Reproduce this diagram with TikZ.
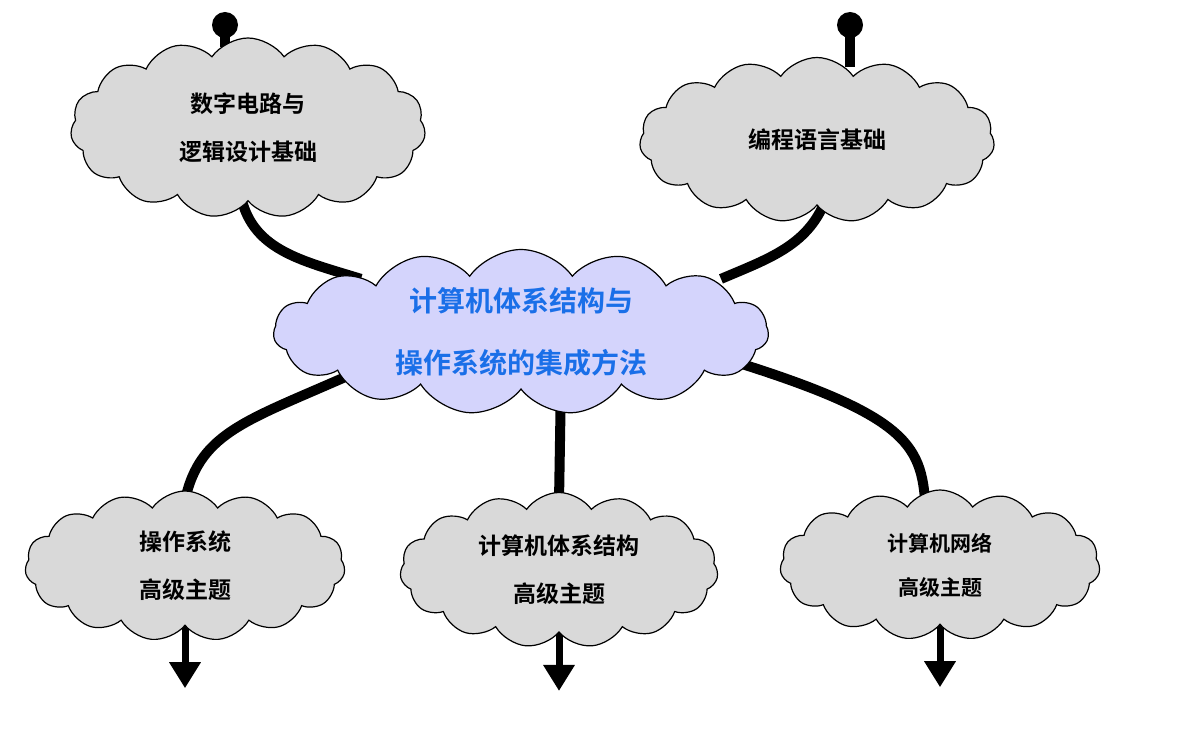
\documentclass[tikz,border=0pt]{standalone}
\usepackage{fontspec}
\newfontfamily\cjk{Noto Sans CJK SC}[BoldFont=* Bold]
\usetikzlibrary{shapes.symbols,arrows.meta,backgrounds}
\tikzset{
 cl/.style={cloud,cloud puffs=15,cloud puff arc=110,cloud ignores aspect,draw,line width=1.2pt,fill=gray!30,align=center,font=\cjk\bfseries\fontsize{23}{48}\selectfont,inner sep=0pt},
 conn/.style={line width=10pt,black},
 arr/.style={line width=7pt,-{Triangle[width=30pt,length=26pt]}},
}
\begin{document}
\begin{tikzpicture}[x=1pt,y=-1pt]
\useasboundingbox (0,0) rectangle (1181,730);
\node[cl,minimum width=355,minimum height=180] (tl) at (248,128) {数字电路与\\逻辑设计基础};
\node[cl,minimum width=355,minimum height=165] (tr) at (817,140) {编程语言基础};
\node[cl,minimum width=495,minimum height=165,fill={rgb,255:red,212;green,212;blue,252},text={rgb,255:red,26;green,111;blue,232},font=\cjk\bfseries\fontsize{28}{62}\selectfont] (c) at (521,332) {计算机体系结构与\\操作系统的集成方法};
\node[cl,minimum width=320,minimum height=150] (bl) at (185,566) {操作系统\\高级主题};
\node[cl,minimum width=318,minimum height=155] (bm) at (559,570) {计算机体系结构\\高级主题};
\node[cl,minimum width=320,minimum height=150,font=\cjk\bfseries\fontsize{21}{44}\selectfont] (br) at (940,565) {计算机网络\\高级主题};
\coordinate (d1) at (225,25);
\coordinate (d2) at (850,25);
\begin{scope}[on background layer]
\fill (d1) circle (13);
\fill (d2) circle (13);
\draw[conn] (d1) -- ([xshift=-23,yshift=-10]tl.north);
\draw[conn] (d2) -- ([xshift=33,yshift=-10]tr.north);
\draw[conn] ([xshift=-8,yshift=10]tl.south) .. controls (250,250) and (300,260) .. ([xshift=-160,yshift=-30]c.north);
\draw[conn] ([xshift=10,yshift=10]tr.south) .. controls (810,245) and (770,258) .. ([xshift=200,yshift=-30]c.north);
\draw[conn] ([xshift=-160,yshift=20]c.south) .. controls (250,420) and (200,430) .. ([yshift=-10]bl.north);
\draw[conn] ([xshift=40,yshift=10]c.south) -- ([yshift=-10]bm.north);
\draw[conn] ([xshift=175,yshift=40]c.south) .. controls (900,410) and (920,440) .. ([xshift=-15,yshift=-10]br.north);
\draw[arr] ([yshift=10]bl.south) -- ++(0,72);
\draw[arr] ([yshift=10]bm.south) -- ++(0,68);
\draw[arr] ([yshift=10]br.south) -- ++(0,72);
\end{scope}
\end{tikzpicture}
\end{document}
